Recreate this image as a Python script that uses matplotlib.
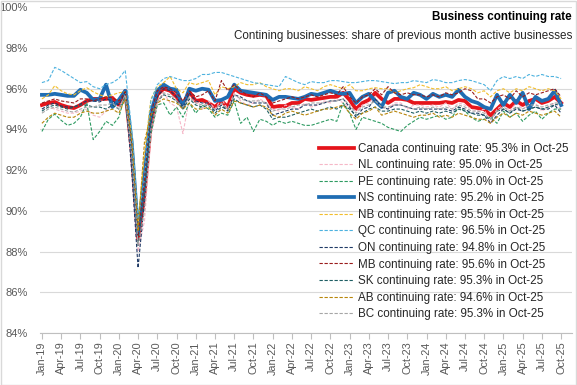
import numpy as np
import pandas as pd
import matplotlib
matplotlib.use("Agg")
import matplotlib.pyplot as plt
from matplotlib.patches import Rectangle

plt.rcParams["font.family"] = ["Liberation Sans", "DejaVu Sans"]

months = pd.date_range("2019-01-01", "2025-10-01", freq="MS")
month_labels = [d.strftime("%b-%y") for d in months]

canada = [
    95.2, 95.3, 95.35, 95.2, 95.1, 95.05, 95.2, 95.4, 95.5, 95.5, 95.5, 95.55,
    95.2, 95.9, 93.0, 88.6, 90.8, 94.3, 95.7, 96.0, 95.9, 95.6, 95.2, 95.85,
    95.4, 95.45, 95.3, 95.1, 95.4, 95.1, 96.0, 95.8, 95.7, 95.65, 95.7, 95.65,
    95.1, 95.15, 95.15, 95.3, 95.3, 95.5, 95.45, 95.5, 95.55, 95.6, 95.6, 95.8,
    95.45, 95.0, 95.3, 95.45, 95.8, 95.5, 95.3, 95.5, 95.5, 95.45, 95.3, 95.3,
    95.3, 95.3, 95.3, 95.35, 95.3, 95.45, 95.4, 95.1, 95.05, 95.0, 94.7, 95.0,
    95.3, 95.1, 95.4, 95.2, 95.4, 95.5, 95.3, 95.4, 95.6, 95.3,
]
nl = [
    95.0, 95.1, 95.0, 94.9, 94.8, 94.8, 94.9, 95.0, 94.7, 94.6, 94.9, 95.2,
    95.1, 95.6, 92.5, 88.0, 89.5, 93.6, 95.2, 95.8, 95.3, 95.1, 93.8, 95.5,
    95.4, 95.0, 95.4, 95.0, 95.5, 95.0, 95.8, 95.4, 95.2, 95.3, 95.5, 95.3,
    95.0, 94.9, 95.2, 95.1, 95.0, 95.3, 95.1, 95.2, 95.4, 95.3, 95.5, 95.3,
    95.1, 94.9, 95.2, 95.3, 95.6, 95.1, 95.0, 95.3, 95.3, 95.0, 95.2, 95.2,
    95.1, 95.2, 95.1, 95.3, 95.0, 95.3, 95.2, 95.0, 94.9, 95.0, 94.3, 95.0,
    95.2, 94.9, 95.3, 95.0, 95.2, 95.3, 94.9, 95.1, 95.3, 95.0,
]
pe = [
    93.9, 94.5, 94.75, 94.45, 94.2, 94.3, 94.6, 95.3, 93.5, 93.9, 94.4, 94.2,
    94.6, 95.7, 93.5, 88.8, 91.2, 93.8, 95.2, 95.3, 94.7, 95.1, 94.6, 95.3,
    94.8, 95.2, 95.0, 94.6, 94.8, 94.7, 95.4, 94.3, 94.6, 93.9, 94.5, 94.4,
    94.2, 94.4, 94.3, 94.4, 94.3, 94.2, 94.2, 94.3, 94.4, 94.5, 94.4, 95.3,
    94.8, 94.0, 94.6, 94.5, 94.4, 94.3, 94.1, 94.0, 93.9, 94.2, 94.4, 94.6,
    94.5, 94.6, 94.7, 94.5, 94.6, 95.1, 94.9, 94.6, 94.4, 94.5, 94.6, 94.3,
    94.9, 94.6, 94.8, 94.4, 94.7, 94.9, 94.5, 94.8, 95.0, 95.0,
]
ns = [
    95.7, 95.7, 95.75, 95.7, 95.65, 95.65, 95.95, 95.8, 95.45, 95.5, 96.2, 95.1,
    95.45, 95.9, 93.4, 88.9, 91.8, 94.8, 95.9, 96.2, 96.0, 95.95, 95.1, 96.0,
    95.9, 96.0, 95.95, 95.4, 95.45, 95.6, 96.2, 95.9, 95.85, 95.8, 95.75, 95.7,
    95.45, 95.6, 95.6, 95.55, 95.5, 95.6, 95.75, 95.7, 95.8, 95.9, 95.8, 95.75,
    95.8, 95.3, 95.6, 95.75, 95.4, 95.1, 95.8, 95.9, 95.6, 95.5, 95.8, 95.7,
    95.5, 95.75, 95.6, 95.7, 95.6, 95.95, 95.6, 95.4, 95.3, 95.1, 95.0, 95.7,
    95.2, 95.7, 95.3, 95.8, 95.0, 95.6, 95.4, 95.5, 95.9, 95.2,
]
nb = [
    95.5, 95.7, 96.15, 95.9, 95.75, 95.7, 95.9, 96.05, 95.85, 95.7, 95.6, 95.7,
    95.8, 95.85, 93.8, 89.5, 92.8, 95.5, 96.1, 96.3, 96.6, 96.0, 95.8, 96.3,
    96.2, 96.3, 96.4, 95.7, 96.1, 96.0, 96.1, 96.3, 96.2, 96.2, 96.3, 96.1,
    96.0, 95.9, 96.0, 96.0, 95.9, 96.1, 96.0, 95.9, 96.1, 96.2, 96.1, 96.0,
    96.2, 95.9, 95.9, 96.0, 96.05, 96.0, 96.0, 95.8, 95.9, 96.0, 96.05, 96.2,
    96.1, 96.0, 96.0, 96.1, 95.9, 96.0, 96.1, 96.0, 95.8, 95.9, 95.6, 95.9,
    96.0, 95.8, 96.0, 95.9, 96.1, 96.0, 95.9, 96.0, 95.9, 95.5,
]
qc = [
    96.3, 96.4, 97.05, 96.9, 96.7, 96.5, 96.3, 96.35, 96.1, 96.0, 96.2, 96.3,
    96.5, 96.9, 94.0, 89.6, 91.6, 95.4, 96.2, 96.5, 96.6, 96.5, 96.4, 96.4,
    96.5, 96.7, 96.7, 96.8, 96.8, 96.7, 96.6, 96.5, 96.4, 96.3, 96.25, 96.2,
    96.15, 96.1, 96.6, 96.45, 96.3, 96.2, 96.35, 96.3, 96.3, 96.4, 96.4, 96.35,
    96.3, 96.3, 96.35, 96.4, 96.4, 96.35, 96.3, 96.25, 96.3, 96.3, 96.4, 96.35,
    96.3, 96.45, 96.4, 96.3, 96.3, 96.4, 96.45, 96.4, 96.3, 96.2, 95.9, 96.4,
    96.6, 96.5, 96.6, 96.5, 96.7, 96.6, 96.7, 96.6, 96.6, 96.5,
]
on = [
    95.0, 95.2, 95.3, 95.15, 95.1, 95.1, 95.25, 95.4, 95.4, 95.35, 95.5, 95.4,
    95.2, 95.85, 92.0, 87.2, 90.5, 94.2, 95.6, 96.0, 95.9, 95.6, 95.1, 95.8,
    95.4, 95.3, 95.3, 94.9, 95.2, 94.9, 95.7, 95.6, 95.4, 95.3, 95.3, 95.3,
    94.7, 94.8, 94.9, 95.0, 95.0, 95.2, 95.2, 95.2, 95.3, 95.4, 95.4, 95.5,
    95.1, 94.6, 95.0, 95.1, 95.5, 95.1, 95.0, 95.2, 95.2, 95.1, 95.0, 95.0,
    95.0, 95.0, 95.0, 95.0, 94.9, 95.1, 95.0, 94.8, 94.8, 94.7, 94.3, 94.7,
    95.0, 94.8, 95.0, 94.9, 95.0, 95.1, 95.0, 95.0, 95.2, 94.8,
]
mb = [
    95.3, 95.4, 95.5, 95.4, 95.35, 95.3, 95.5, 95.5, 95.4, 95.5, 95.6, 95.55,
    95.4, 95.85, 93.2, 88.7, 91.5, 94.8, 95.9, 96.1, 96.0, 95.8, 95.4, 95.9,
    95.6, 95.7, 95.9, 95.4, 96.4, 95.9, 96.2, 95.9, 95.7, 95.6, 95.8, 95.6,
    95.3, 95.4, 95.5, 95.6, 95.5, 95.6, 95.7, 95.6, 95.7, 95.8, 95.7, 96.1,
    95.6, 95.3, 95.6, 95.7, 96.0, 95.7, 96.1, 95.8, 95.7, 95.8, 95.7, 95.7,
    95.6, 95.7, 95.6, 95.8, 95.7, 95.8, 96.0, 95.9, 95.5, 95.5, 95.3, 95.6,
    95.7, 95.5, 95.9, 95.6, 95.8, 95.7, 95.8, 95.9, 96.0, 95.6,
]
sk = [
    94.9, 95.1, 95.2, 95.1, 95.0, 95.1, 95.2, 95.2, 95.1, 95.1, 95.0, 95.2,
    95.0, 95.6, 93.0, 88.3, 91.0, 94.5, 95.4, 95.7, 95.6, 95.4, 95.0, 95.5,
    95.2, 95.1, 95.2, 94.8, 95.1, 95.0, 95.5, 95.3, 95.2, 95.1, 95.2, 95.0,
    94.5, 94.6, 94.6, 94.7, 94.8, 94.9, 95.0, 94.9, 95.0, 95.1, 95.0, 95.2,
    95.0, 94.7, 94.8, 95.0, 95.1, 94.9, 94.9, 95.0, 95.0, 94.9, 94.8, 94.9,
    94.8, 94.9, 94.8, 94.9, 94.8, 95.0, 94.9, 94.8, 94.7, 94.7, 94.5, 94.9,
    95.0, 94.8, 95.1, 94.9, 95.0, 95.1, 95.0, 95.1, 95.2, 95.3,
]
ab = [
    94.3, 94.6, 94.8, 94.7, 94.6, 94.6, 94.8, 94.9, 94.8, 94.8, 94.9, 95.0,
    94.8, 95.5, 93.5, 89.0, 93.4, 94.7, 95.3, 95.5, 95.4, 95.3, 95.0, 95.3,
    95.0, 95.0, 95.1, 94.7, 95.0, 94.8, 95.4, 95.3, 95.2, 95.1, 95.2, 95.1,
    94.7, 94.6, 94.8, 94.9, 94.8, 94.7, 94.8, 94.9, 95.0, 95.0, 95.1, 95.2,
    94.8, 94.5, 94.8, 94.9, 95.1, 94.7, 94.8, 94.9, 94.8, 94.7, 94.6, 94.7,
    94.7, 94.8, 94.6, 94.7, 94.6, 94.8, 94.7, 94.6, 94.5, 94.5, 94.3, 94.6,
    94.8, 94.6, 94.8, 94.7, 94.9, 94.8, 94.7, 94.8, 94.9, 94.6,
]
bc = [
    94.8, 95.0, 95.1, 95.0, 94.9, 94.85, 95.0, 95.1, 95.1, 95.2, 95.2, 95.3,
    95.0, 95.7, 92.8, 88.3, 90.0, 94.0, 95.4, 95.8, 95.7, 95.4, 95.1, 95.6,
    95.3, 95.2, 95.2, 95.0, 95.3, 95.0, 95.7, 95.5, 95.4, 95.4, 95.4, 95.3,
    94.9, 95.0, 95.0, 95.1, 95.2, 95.2, 95.3, 95.3, 95.3, 95.4, 95.4, 95.5,
    95.2, 94.8, 95.1, 95.2, 95.4, 95.1, 95.1, 95.2, 95.2, 95.1, 95.0, 95.1,
    95.0, 95.1, 95.0, 95.1, 95.0, 95.2, 95.1, 94.9, 94.9, 94.8, 94.5, 94.9,
    95.1, 94.9, 95.1, 95.0, 95.2, 95.2, 95.1, 95.2, 95.3, 95.3,
]

series = [
    ("Canada", canada, "#E5141B", 2.7, "-"),
    ("NL", nl, "#F6B8C8", 0.8, "--"),
    ("PE", pe, "#2E9B62", 0.8, "--"),
    ("NS", ns, "#1F6DB3", 2.7, "-"),
    ("NB", nb, "#F2BE2C", 0.8, "--"),
    ("QC", qc, "#4DB2DF", 0.8, "--"),
    ("ON", on, "#1F3A66", 0.8, "--"),
    ("MB", mb, "#9A1C1C", 0.8, "--"),
    ("SK", sk, "#1E5E63", 0.8, "--"),
    ("AB", ab, "#B8860B", 0.8, "--"),
    ("BC", bc, "#A6A6A6", 0.8, "--"),
]

fig = plt.figure(figsize=(5.77, 3.85), dpi=100)
ax = fig.add_axes([40 / 577, 1 - 333 / 385, 532 / 577, (333 - 7.3) / 385])

x = np.arange(len(months))
for name, vals, color, lw, ls in series:
    ax.plot(x, vals, color=color, linewidth=lw, linestyle=ls,
            dashes=(3, 1.5) if ls == "--" else (None, None),
            label=f"{name} continuing rate: {vals[-1]:.1f}% in {month_labels[-1]}")

ax.set_ylim(84, 100)
ax.set_yticks(np.arange(84, 101, 2))
ax.set_yticklabels([f"{v}%" for v in range(84, 101, 2)])
ax.set_xlim(-0.3, 82.7)
ax.set_xticks(x[::3])
ax.set_xticklabels(month_labels[::3], rotation=90)
ax.grid(axis="y", color="#D9D9D9", linewidth=0.8)
ax.set_axisbelow(True)
for side in ["top", "right", "left"]:
    ax.spines[side].set_visible(False)
ax.spines["bottom"].set_color("#BFBFBF")
ax.tick_params(axis="y", length=0, labelsize=8, labelcolor="#595959", pad=9)
ax.tick_params(axis="x", length=4, color="#BFBFBF", labelsize=7.8,
               labelcolor="#595959", pad=2)

fig.text(572 / 577, 1 - 17 / 385, "Business continuing rate", ha="right",
         va="center", fontsize=8.4, fontweight="bold", color="black")
fig.text(572 / 577, 1 - 36 / 385,
         "Contining businesses: share of previous month active businesses",
         ha="right", va="center", fontsize=8.4, color="#262626")

fig.legend(loc="upper left", bbox_to_anchor=(314 / 577, 1 - 138 / 385),
           frameon=False, fontsize=8.4, handlelength=3.0, handletextpad=0.35,
           labelspacing=0.39, borderaxespad=0, labelcolor="#262626")

fig.add_artist(Rectangle((0.001, 0.001), 0.997, 0.997, transform=fig.transFigure,
                         fill=False, edgecolor="#D9D9D9", linewidth=1))

fig.savefig("out.png", dpi=100)
